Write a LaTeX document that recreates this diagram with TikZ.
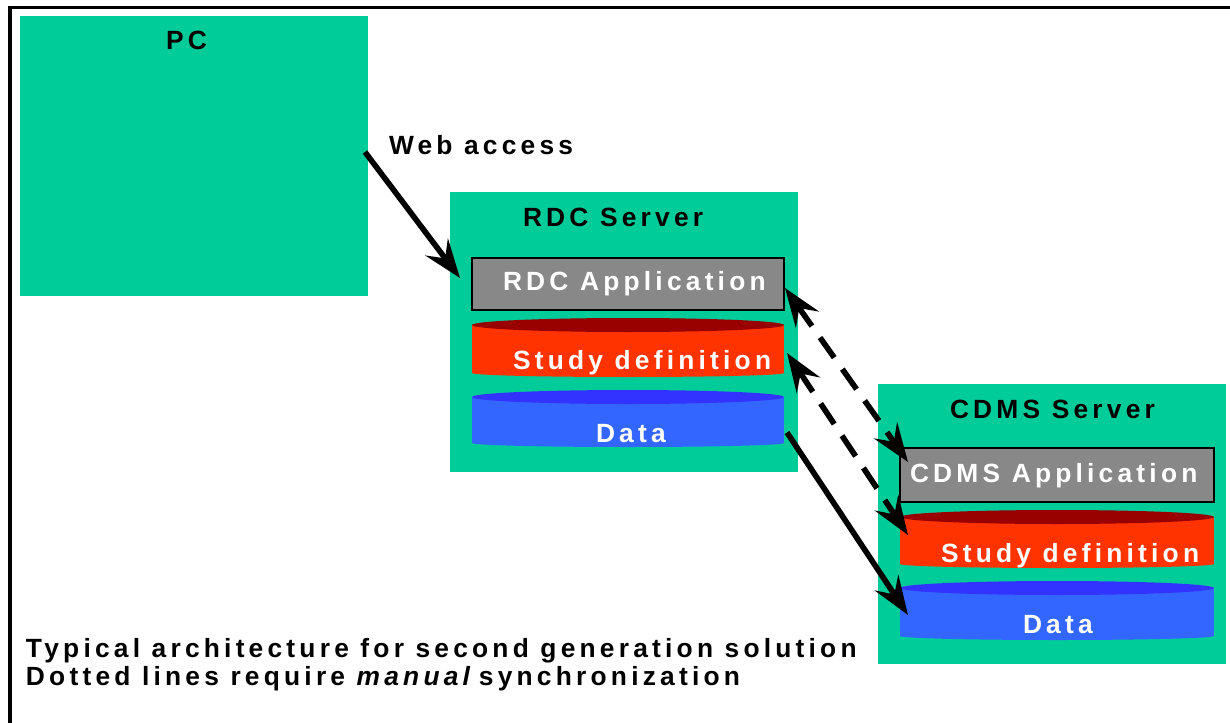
\documentclass[tikz,border=0pt]{standalone}
\usepackage{fontspec}
\setmainfont{Liberation Sans}
\newfontfamily\lab{Liberation Sans}[LetterSpace=16]
\usetikzlibrary{arrows.meta,fit,calc}
\definecolor{boxgreen}{HTML}{00CC99}
\definecolor{appgray}{HTML}{888888}
\definecolor{sdtop}{HTML}{990000}
\definecolor{sdbody}{HTML}{FF3300}
\definecolor{dattop}{HTML}{3333FF}
\definecolor{datbody}{HTML}{3366FF}
\newcommand\dbcyl[6]{%
  \fill[#6body] (#2,#4) rectangle (#3,#5);
  \fill[#6body] ({(#2+#3)/2},#5) ellipse [x radius={(#3-#2)/2}, y radius=4];
  \fill[#6top] ({(#2+#3)/2},#4) ellipse [x radius={(#3-#2)/2}, y radius=7];
  \node[inner sep=0, outer sep=0, fit={(#2,#4-7) (#3,#5+4)}] (#1) {};
}
\tikzset{
  greenbox/.style={fill=boxgreen, inner sep=0, outer sep=0},
  appbox/.style={fill=appgray, draw=black, line width=1.2pt, inner sep=0, outer sep=0},
  txt/.style={inner sep=0, outer sep=0, anchor=base west, font=\lab\bfseries\fontsize{15}{17}\selectfont},
  wtxt/.style={txt, text=white},
  tip/.tip={Stealth[length=22pt,width=16pt,inset=8pt]},
  link/.style={line width=3.2pt, -tip},
  sync/.style={line width=3.2pt, dash pattern=on 14pt off 8pt, tip-tip},
  frame/.style={line width=1.8pt}
}
\begin{document}
\begin{tikzpicture}[x=0.02cm, y=-0.02cm]
\useasboundingbox (0,0) rectangle (1230,723);
\clip (0,0) rectangle (1230,723);
% outer frame (cut at right and bottom)
\draw[frame] (10,740) -- (10,7.5) -- (1250,7.5);
% boxes
\node[greenbox, fit={(20,16) (368,296)}] (pc) {};
\node[greenbox, fit={(450,192) (798,472)}] (rdcserver) {};
\node[greenbox, fit={(878,384) (1226,664)}] (cdmsserver) {};
\node[appbox, fit={(472,258) (784,310)}] (rdcapp) {};
\node[appbox, fit={(900,448) (1214,502)}] (cdmsapp) {};
\dbcyl{rdcsd}{472}{784}{325}{373}{sd}
\dbcyl{rdcdata}{472}{784}{397}{443}{dat}
\dbcyl{cdmssd}{900}{1214}{517}{564}{sd}
\dbcyl{cdmsdata}{900}{1214}{588}{636}{dat}
% texts
\node[txt] (pclabel) at (166,50) {PC};
\node[txt] (weblabel) at (389,154) {Web access};
\node[txt] (rdclabel) at (523,226) {RDC Server};
\node[wtxt] (rdcapplabel) at (503,290) {RDC Application};
\node[wtxt] (rdcsdlabel) at (513,369) {Study definition};
\node[wtxt] (rdcdatalabel) at (596,442) {Data};
\node[txt] (cdmslabel) at (950,418) {CDMS Server};
\node[wtxt] (cdmsapplabel) at (910,482) {CDMS Application};
\node[wtxt] (cdmssdlabel) at (941,562) {Study definition};
\node[wtxt] (cdmsdatalabel) at (1023,633) {Data};
\node[txt] (cap1) at (26,657) {Typical architecture for second generation solution};
\node[txt] (cap2) at (26,685) {Dotted lines require {\itshape manual}\hspace{-1.5pt} synchronization};
% connectors
\draw[link] ($(pc.east)+(-3,-4)$) -- ($(rdcapp.west)+(-12,-6)$);
\draw[sync] ($(rdcapp.east)+(1,4)$) -- ($(cdmsapp.west)+(8,-13)$);
\draw[sync] ($(rdcsd.east)+(3,5.5)$) -- ($(cdmssd.west)+(8,-4)$);
\draw[link] ($(rdcdata.east)+(3,14)$) -- ($(cdmsdata.west)+(8,4.5)$);
\end{tikzpicture}
\end{document}
